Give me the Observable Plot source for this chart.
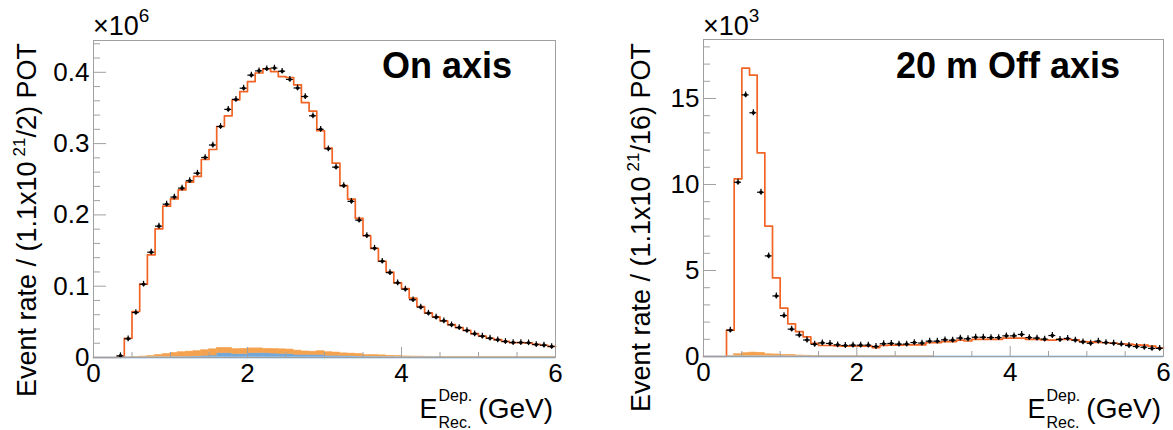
<!DOCTYPE html>
<html><head><meta charset="utf-8">
<script src="https://cdn.jsdelivr.net/npm/d3@7"></script>
<script src="https://cdn.jsdelivr.net/npm/@observablehq/plot@0.6"></script>
<style>
html,body{margin:0;padding:0;background:#fff;}
#wrap{display:flex;width:1173px;height:430px;overflow:hidden;}
svg{display:block;overflow:visible}
</style></head><body><div id="wrap"></div>
<script>
// ---------- data (bins of 0.1 GeV from 0 to 6 GeV) ----------
const binWidth = 0.1;
const binLow = d3.range(60).map(i => +(i * binWidth).toFixed(2));

// On axis (units of 1e6)
const onAxisMC = [0,0,0,0.001,0.027,0.0645,0.1028,0.144,0.1805,0.2122,
  0.2225,0.235,0.246,0.254,0.2777,0.2917,0.324,0.339,0.3614,0.373,
  0.387,0.399,0.405,0.401,0.394,0.3927,0.3824,0.3576,0.3455,0.318,
  0.2936,0.2725,0.241,0.222,0.195,0.171,0.153,0.135,0.1197,0.1047,
  0.0968,0.0832,0.0715,0.0625,0.057,0.0515,0.046,0.042,0.038,0.0335,
  0.030,0.027,0.025,0.0225,0.021,0.0208,0.0205,0.0183,0.0172,0.0155];
const onAxisData = [null,null,null,0.0024,0.0262,0.0631,0.1028,0.1477,0.1842,0.215,
  0.225,0.2375,0.248,0.2585,0.2805,0.298,0.324,0.348,0.362,0.3777,
  0.396,0.402,0.405,0.406,0.4015,0.39,0.378,0.366,0.339,0.320,
  0.2927,0.267,0.241,0.219,0.1926,0.171,0.1533,0.135,0.119,0.1047,
  0.0958,0.081,0.0706,0.0622,0.0566,0.0514,0.0458,0.042,0.0379,0.0332,
  0.0299,0.0271,0.0248,0.0224,0.021,0.021,0.0206,0.0182,0.0173,0.0154];
const onAxisBkgBlue = [0,0,0,0,0,0,0,0,0.0005,0.0005,
  0.0008,0.001,0.0013,0.0015,0.0025,0.0028,0.006,0.006,0.0048,0.0048,
  0.006,0.0062,0.006,0.0055,0.005,0.0048,0.0038,0.0036,0.0036,0.0035,
  0.0025,0.0025,0.0022,0.002,0.0015,0.0014,0.0013,0.0012,0.001,0.0008,
  0.0005,0.0005,0.0005,0.0005,0.0005,0.0003,0.0003,0.0003,0.0003,0.0003,
  0.0003,0.0003,0.0003,0.0003,0.0003,0.0003,0.0003,0.0003,0.0003,0.0003];
const onAxisBkgOrange = [0,0,0,0,0.0003,0.0008,0.0014,0.0023,0.0032,0.0045,
  0.0057,0.0065,0.007,0.0075,0.0078,0.0087,0.0076,0.0076,0.007,0.0074,
  0.0068,0.0066,0.0062,0.0065,0.0065,0.0064,0.0059,0.0049,0.0046,0.0055,
  0.005,0.0045,0.0036,0.0035,0.0035,0.0021,0.0021,0.0018,0.0015,0.0014,
  0.001,0.0009,0.0008,0.0006,0.0005,0.0004,0.0004,0.0003,0.0003,0.0003,
  0.0002,0.0002,0.0002,0.0002,0.0002,0.0002,0.0002,0.0002,0.0002,0.0002];

// 20 m Off axis (units of 1e3)
const offAxisMC = [0,0,0,1.53,10.33,16.76,16.36,11.84,7.58,4.57,
  2.81,1.90,1.45,1.14,0.76,0.64,0.64,0.62,0.60,0.60,
  0.60,0.60,0.52,0.64,0.66,0.66,0.68,0.68,0.68,0.80,
  0.80,0.87,0.87,0.95,0.90,0.99,0.99,0.99,0.99,1.07,
  1.07,1.07,0.99,0.99,0.97,0.95,0.99,0.99,0.97,0.87,
  0.85,0.82,0.80,0.78,0.74,0.72,0.68,0.66,0.60,0.50];
const offAxisData = [null,null,null,1.53,10.13,15.21,14.17,9.55,5.85,3.52,
  2.38,1.59,1.25,0.96,0.71,0.79,0.76,0.68,0.64,0.66,
  0.66,0.66,0.58,0.74,0.76,0.72,0.72,0.81,0.78,0.89,
  0.89,0.97,0.95,1.07,1.03,1.12,1.12,1.10,1.10,1.20,
  1.20,1.28,1.10,1.07,1.01,1.22,0.99,1.05,0.95,0.85,
  0.77,0.89,0.81,0.77,0.72,0.64,0.58,0.54,0.47,0.47];
const offAxisBkgBlue = new Array(60).fill(0);
const offAxisBkgOrange = [0,0,0,0.03,0.14,0.2,0.23,0.22,0.13,0.12,
  0.1,0.1,0.06,0.05,0.04,0.02,0.02,0.02,0.02,0.02,
  0.02,0.02,0.02,0.02,0.02,0.02,0.02,0.02,0.02,0.02,
  0,0,0,0,0,0,0,0,0,0, 0,0,0,0,0,0,0,0,0,0, 0,0,0,0,0,0,0,0,0,0];

const xMajor = [0, 2, 4, 6];
const xMinor = [0.5, 1, 1.5, 2.5, 3, 3.5, 4.5, 5, 5.5];
const onYMajor = [0, 0.1, 0.2, 0.3, 0.4];
const onYMinor = [0.02,0.04,0.06,0.08,0.12,0.14,0.16,0.18,0.22,0.24,0.26,0.28,0.32,0.34,0.36,0.38,0.42,0.44];
const offYMajor = [0, 5, 10, 15];
const offYMinor = [1,2,3,4,6,7,8,9,11,12,13,14,16,17,18];

// ---------- style ----------
const FONT = "'Liberation Sans', Arial, Helvetica, sans-serif";
const frameColor = "#a0a0a0";
const mcColor = "#f26424";
const orangeFill = "#f5a24f";
const blueFill = "#72a7d8";
const baseBlue = "#a8cbea";

function makePanel(cfg) {
  const edges = binLow.concat([6]);
  const mcLine = edges.map((e, i) => ({x: e, y: cfg.mc[Math.min(i, cfg.mc.length - 1)]}));
  const pts = binLow.map((e, i) => ({x: e + binWidth / 2, y: cfg.data[i]})).filter(d => d.y != null);
  const bkg = binLow.map((e, i) => ({x1: e, x2: e + binWidth, b: cfg.blue[i], o: cfg.orange[i]}));
  const chart = Plot.plot({
    width: cfg.width, height: 430,
    marginLeft: cfg.ml, marginRight: cfg.mr, marginTop: cfg.mt, marginBottom: cfg.mbot,
    x: {domain: [0, 6]},
    y: {domain: [0, cfg.yMax]},
    style: {fontFamily: FONT, fontSize: "26px", color: "black", background: "white"},
    marks: [
      Plot.rect(bkg.filter(d => d.b > 0), {x1: "x1", x2: "x2", y1: 0, y2: "b", fill: blueFill, stroke: blueFill, strokeWidth: 0.5}),
      Plot.rect(bkg.filter(d => d.o > 0), {x1: "x1", x2: "x2", y1: "b", y2: d => d.b + d.o, fill: orangeFill, stroke: orangeFill, strokeWidth: 0.5}),
      Plot.line(mcLine, {x: "x", y: "y", curve: "step-after", stroke: mcColor, strokeWidth: 1.7}),
      Plot.ruleY([0], {stroke: baseBlue, strokeWidth: 2}),
      Plot.ruleY(pts, {y: "y", x1: d => d.x - 0.045, x2: d => d.x + 0.045, stroke: "black", strokeWidth: 1.2}),
      Plot.ruleX(pts, {x: "x", y1: d => d.y - cfg.yErr, y2: d => d.y + cfg.yErr, stroke: "black", strokeWidth: 1.2}),
      Plot.dot(pts, {x: "x", y: "y", r: 1.8, fill: "black"}),
      Plot.frame({stroke: frameColor}),
      Plot.axisX(xMajor, {tickSize: -10, fill: "none", stroke: frameColor, label: null}),
      Plot.axisX(xMinor, {tickSize: -5, fill: "none", stroke: frameColor, label: null}),
      Plot.axisX(xMajor, {tickSize: 0, tickPadding: 6, fontSize: 26, tickFormat: d => String(d), label: null}),
      Plot.axisY(cfg.yMajor, {tickSize: -13, fill: "none", stroke: frameColor, label: null}),
      Plot.axisY(cfg.yMinor, {tickSize: -7, fill: "none", stroke: frameColor, label: null}),
      Plot.axisY(cfg.yMajor, {tickSize: 0, tickPadding: 4, fontSize: 26, tickFormat: d => String(d), label: null})
    ]
  });
  document.getElementById("wrap").appendChild(chart);
  const svg = d3.select(chart);
  const left = cfg.ml, right = cfg.width - cfg.mr;

  // multiplier
  const m = svg.append("text").attr("x", left).attr("y", 35).attr("text-anchor", "start")
    .attr("font-family", FONT).attr("font-size", 27).attr("fill", "black");
  m.append("tspan").text("×10");
  m.append("tspan").attr("dy", -13).attr("font-size", 19).text(cfg.exp);

  // y title
  const yt = svg.append("text")
    .attr("transform", `translate(${cfg.yTitleX},43) rotate(-90)`)
    .attr("text-anchor", "end").attr("font-family", FONT).attr("font-size", 27).attr("fill", "black");
  yt.append("tspan").text("Event rate / (1.1x10");
  yt.append("tspan").attr("dx", 5).attr("dy", -11).attr("font-size", 17).text("21");
  yt.append("tspan").attr("dy", 11).text(cfg.yTitleTail);

  // x title: all pieces start-anchored, placed after measuring
  const g = svg.append("g").attr("font-family", FONT).attr("fill", "black");
  const base = 418;
  const eT = g.append("text").attr("y", base).attr("text-anchor", "start").attr("font-size", 27).text("E");
  const dep = g.append("text").attr("y", base - 17).attr("text-anchor", "start").attr("font-size", 16).text("Dep.");
  const rec = g.append("text").attr("y", base + 10).attr("text-anchor", "start").attr("font-size", 16).text("Rec.");
  const gev = g.append("text").attr("y", base).attr("text-anchor", "start").attr("font-size", 28).text("(GeV)");
  const wE = eT.node().getComputedTextLength();
  const w2 = Math.max(dep.node().getComputedTextLength(), rec.node().getComputedTextLength());
  const wG = gev.node().getComputedTextLength();
  const x0 = right - 2 - wG - 6 - w2 - 1 - wE;
  eT.attr("x", x0);
  dep.attr("x", x0 + wE + 1);
  rec.attr("x", x0 + wE + 1);
  gev.attr("x", x0 + wE + 1 + w2 + 6);

  // panel label
  svg.append("text").attr("x", cfg.labelX).attr("y", 78).attr("text-anchor", "end")
    .attr("font-family", FONT).attr("font-weight", "bold").attr("font-size", 36).attr("fill", "black").text(cfg.label);
}

makePanel({
  width: 586, ml: 93, mr: 31, mt: 40, mbot: 73,
  yMax: 0.4446, yMajor: onYMajor, yMinor: onYMinor, yErr: 0.004,
  mc: onAxisMC, data: onAxisData, blue: onAxisBkgBlue, orange: onAxisBkgOrange,
  exp: "6", yTitleX: 36, yTitleTail: "/2) POT", label: "On axis", labelX: 512
});
makePanel({
  width: 587, ml: 117, mr: 10, mt: 39, mbot: 74,
  yMax: 18.43, yMajor: offYMajor, yMinor: offYMinor, yErr: 0.17,
  mc: offAxisMC, data: offAxisData, blue: offAxisBkgBlue, orange: offAxisBkgOrange,
  exp: "3", yTitleX: 64, yTitleTail: "/16) POT", label: "20 m Off axis", labelX: 534
});
</script></body></html>
